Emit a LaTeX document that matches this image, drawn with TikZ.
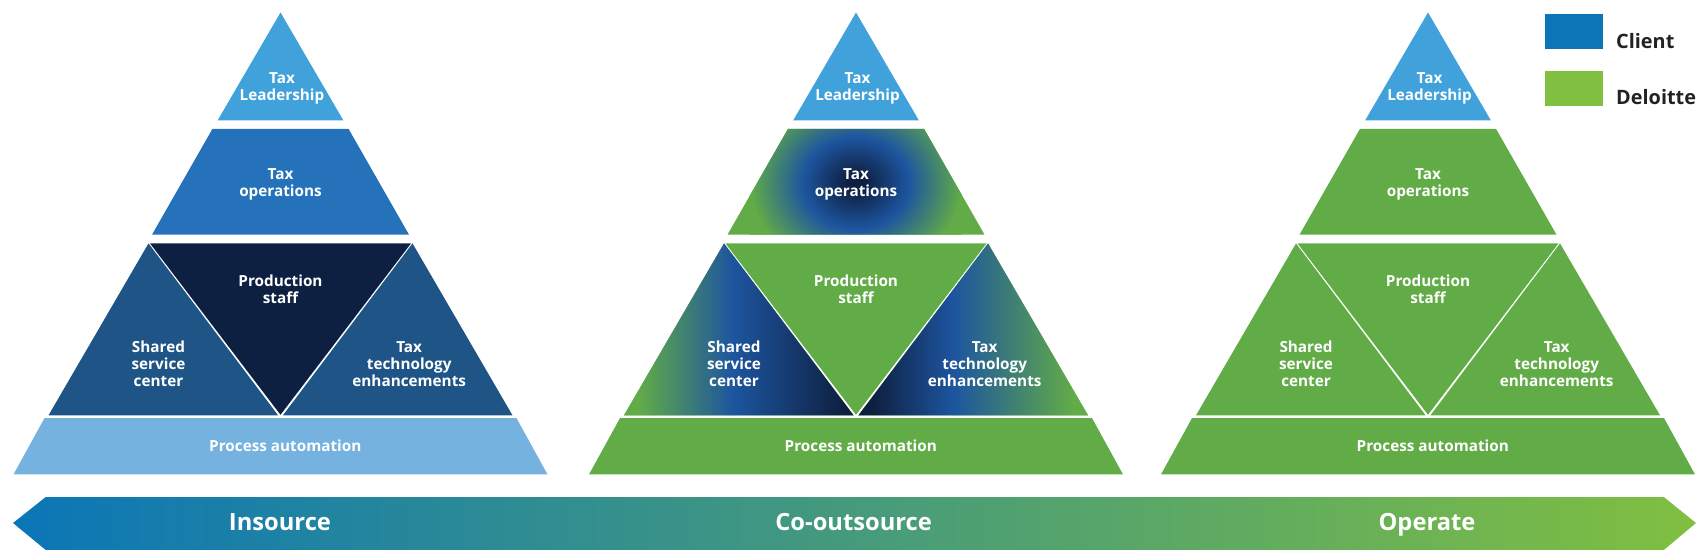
\documentclass[tikz,border=0pt]{standalone}
\usepackage{fontspec}
\setmainfont{Open Sans}
\usepackage{tikz}
\definecolor{leadblue}{HTML}{41A2DB}
\definecolor{opsblue}{HTML}{2672BA}
\definecolor{sideblue}{HTML}{1F5586}
\definecolor{prodnavy}{HTML}{0E2041}
\definecolor{procblue}{HTML}{76B2E0}
\definecolor{opgreen}{HTML}{62AC47}
\definecolor{glowblue}{HTML}{1D559F}
\definecolor{keyblue}{HTML}{0B76B7}
\definecolor{keygreen}{HTML}{80BF40}
\definecolor{keytext}{HTML}{222222}
\pgfdeclarehorizontalshading{sideleft}{100bp}{color(0bp)=(opgreen); color(28bp)=(opgreen); color(48.7bp)=(glowblue); color(73bp)=(prodnavy); color(100bp)=(prodnavy)}
\pgfdeclarehorizontalshading{sideright}{100bp}{color(0bp)=(prodnavy); color(28bp)=(prodnavy); color(45.6bp)=(glowblue); color(72bp)=(opgreen); color(100bp)=(opgreen)}
\pgfdeclareradialshading{opsglow}{\pgfpoint{0bp}{0bp}}{color(0bp)=(prodnavy); color(2bp)=(prodnavy); color(12.5bp)=(glowblue); color(25bp)=(opgreen); color(50bp)=(opgreen)}

\begin{document}
\begin{tikzpicture}[x=0.02cm, y=-0.02cm]

\tikzstyle{lbl}=[text=white, font=\fontsize{8.7}{9.7}\selectfont\bfseries, align=center]
\tikzstyle{bandlbl}=[text=white, font=\fontsize{13.5}{16}\selectfont\bfseries, anchor=base]
\tikzstyle{keylbl}=[text=keytext, font=\fontsize{11.3}{13}\selectfont\bfseries, anchor=base west]

\useasboundingbox (0,0) rectangle (1706,558);

\foreach \pname/\px/\cops/\cside/\cprod/\cproc in {ins/280.5/opsblue/sideblue/prodnavy/procblue, cos/856/opgreen/opgreen/opgreen/opgreen, opr/1428/opgreen/opgreen/opgreen/opgreen}
{
  \fill[leadblue] (\px,12.5) -- (\px+62.8,120.3) -- (\px-62.8,120.3) -- cycle;
  \fill[\cops] (\px-68,128.8) -- (\px+68,128.8) -- (\px+128.4,234.5) -- (\px-128.4,234.5) -- cycle;
  \fill[\cside] (\px-132,243.4) -- (\px-2.4,415.3) -- (\px-232,415.3) -- cycle;
  \fill[\cside] (\px+132,243.4) -- (\px+232,415.3) -- (\px+2.4,415.3) -- cycle;
  \fill[\cprod] (\px-130.5,243.4) -- (\px+130.5,243.4) -- (\px,414.8) -- cycle;
  \fill[\cproc] (\px-236,418.1) -- (\px+236,418.1) -- (\px+267,474.4) -- (\px-267,474.4) -- cycle;
}

\begin{scope}
  \clip (788,128.8) -- (924,128.8) -- (984.4,234.5) -- (727.6,234.5) -- cycle;
  \shade[shading=opsglow] (749.7,91) rectangle (961.7,275);
\end{scope}
\shade[shading=sideleft] (724,243.4) -- (853.6,415.3) -- (624,415.3) -- cycle;
\shade[shading=sideright] (988,243.4) -- (1088,415.3) -- (858.4,415.3) -- cycle;

\shade[left color=keyblue, right color=keygreen] (13,523) -- (45.5,497.2) -- (1664,497.2) -- (1696,523) -- (1664,549.8) -- (45.5,549.8) -- cycle;

\foreach \pname/\px in {ins/280.5, cos/856, opr/1428}
{
  \node (lead\pname) [lbl] at (\px+1.5,88) {Tax\\Leadership};
  \node (ops\pname) [lbl] at (\px,184.5) {Tax\\operations};
  \node (prod\pname) [lbl] at (\px,289) {Production\\staff};
  \node (shared\pname) [lbl] at (\px-122,364) {Shared\\service\\center};
  \node (tech\pname) [lbl] at (\px+128.7,364) {Tax\\technology\\enhancements};
  \node (proc\pname) [lbl] at (\px+4.8,445.5) {Process automation};
}

\node (insource) [bandlbl] at (280,530) {Insource};
\node (cosource) [bandlbl] at (853.6,530) {Co-outsource};
\node (operate) [bandlbl] at (1427,530) {Operate};

\fill[keyblue] (1545,13.9) rectangle (1603,49);
\fill[keygreen] (1545,71) rectangle (1603,106);
\node (client) [keylbl] at (1610,48) {Client};
\node (deloitte) [keylbl] at (1610,104) {Deloitte};

\end{tikzpicture}
\end{document}
